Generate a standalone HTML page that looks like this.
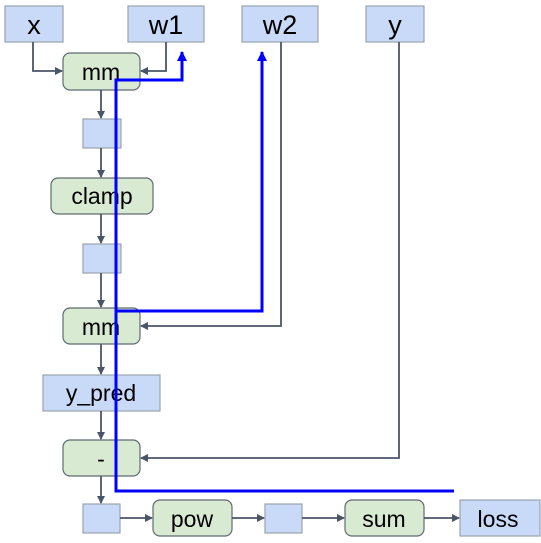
<!DOCTYPE html>
<html><head><style>body{margin:0;background:#fff}svg{display:block}text{font-family:"Liberation Sans",sans-serif;fill:#000}</style></head>
<body>
<svg width="541" height="543" viewBox="0 0 541 543" xmlns="http://www.w3.org/2000/svg">
<defs>
<marker id="a" markerWidth="8" markerHeight="8" refX="7" refY="4" orient="auto" markerUnits="userSpaceOnUse"><path d="M0,0 L8,4 L0,8 z" fill="#4a5568"/></marker>
<marker id="b" markerWidth="10" markerHeight="10" refX="9" refY="5" orient="auto" markerUnits="userSpaceOnUse"><path d="M0,0 L10,5 L0,10 z" fill="#0000ff"/></marker>
</defs>
<g fill="#c9daf8" stroke="#9aa3ad" stroke-width="1.2">
<rect x="5" y="6" width="58" height="36"/>
<rect x="128" y="6" width="76" height="36"/>
<rect x="242" y="6" width="76" height="36"/>
<rect x="366" y="6" width="58" height="36"/>
<rect x="83" y="119" width="38" height="29"/>
<rect x="83" y="244" width="38" height="29"/>
<rect x="43" y="375" width="117" height="36"/>
<rect x="83" y="504" width="37" height="29"/>
<rect x="265" y="504" width="37" height="29"/>
<rect x="460" y="500" width="80" height="36"/>
</g>
<g fill="#d9ead3" stroke="#5f6b73" stroke-width="1.2">
<rect x="63" y="53" width="77" height="37" rx="7"/>
<rect x="51" y="178" width="102" height="36" rx="7"/>
<rect x="63" y="308" width="77" height="36" rx="7"/>
<rect x="63" y="440" width="77" height="36" rx="7"/>
<rect x="153" y="500" width="79" height="36" rx="7"/>
<rect x="345" y="500" width="79" height="36" rx="7"/>
</g>
<g fill="none" stroke="#4a5568" stroke-width="1.8">
<path d="M33,42 V71 H62" marker-end="url(#a)"/>
<path d="M166,42 V71 H141" marker-end="url(#a)"/>
<path d="M101,90 V118" marker-end="url(#a)"/>
<path d="M101,148 V177" marker-end="url(#a)"/>
<path d="M101,214 V243" marker-end="url(#a)"/>
<path d="M101,273 V307" marker-end="url(#a)"/>
<path d="M281,42 V326 H141" marker-end="url(#a)"/>
<path d="M101,344 V374" marker-end="url(#a)"/>
<path d="M101,411 V439" marker-end="url(#a)"/>
<path d="M399,42 V458 H141" marker-end="url(#a)"/>
<path d="M101,476 V503" marker-end="url(#a)"/>
<path d="M120,518 H152" marker-end="url(#a)"/>
<path d="M232,518 H264" marker-end="url(#a)"/>
<path d="M302,518 H344" marker-end="url(#a)"/>
<path d="M424,518 H459" marker-end="url(#a)"/>
</g>
<g text-anchor="middle" font-size="23">
<text x="34" y="34" font-size="27">x</text>
<text x="166" y="34" font-size="27">w1</text>
<text x="280" y="34" font-size="27">w2</text>
<text x="395" y="34" font-size="27">y</text>
<text x="101" y="80">mm</text>
<text x="102" y="204">clamp</text>
<text x="101" y="335">mm</text>
<text x="101" y="401">y_pred</text>
<text x="101" y="467">-</text>
<text x="192" y="527">pow</text>
<text x="384" y="527">sum</text>
<text x="498" y="527">loss</text>
</g>
<g fill="none" stroke="#0000ff" stroke-width="3">
<path d="M454,491 H116 V80 H182 V52" marker-end="url(#b)"/>
<path d="M116,311 H262 V52" marker-end="url(#b)"/>
</g>
</svg>
</body></html>
